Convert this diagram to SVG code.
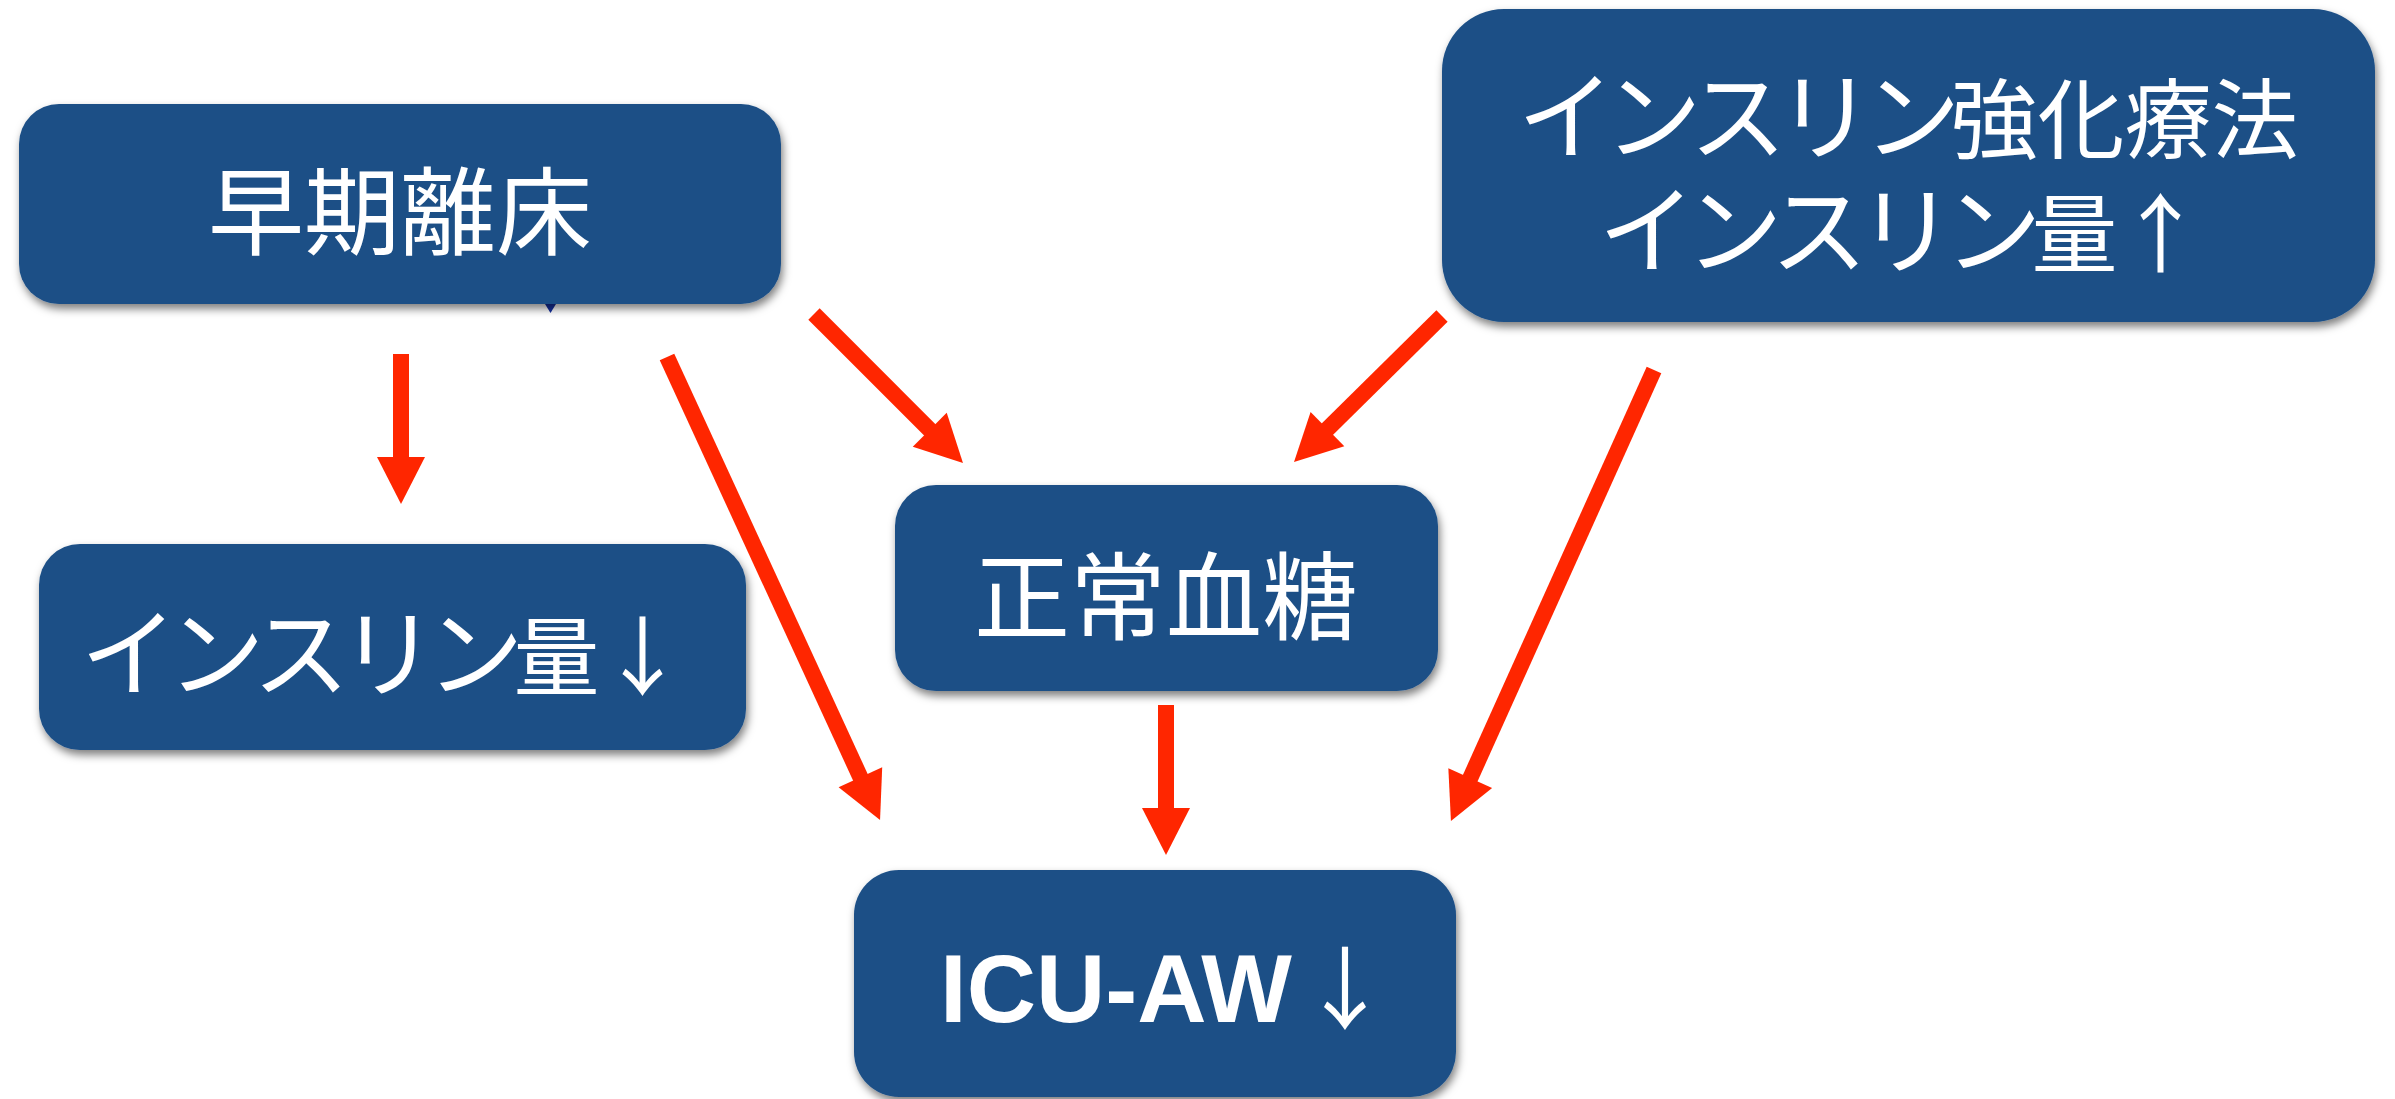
<svg xmlns="http://www.w3.org/2000/svg" width="2395" height="1099" viewBox="0 0 2395 1099">
  <defs>
    <filter id="shadow" x="-10%" y="-10%" width="125%" height="130%">
      <feDropShadow dx="2" dy="5" stdDeviation="4" flood-color="#000000" flood-opacity="0.5"/>
    </filter>
    <marker id="head" markerUnits="userSpaceOnUse" viewBox="0 -24 47 48" refX="22" refY="0" markerWidth="47" markerHeight="48" orient="auto" overflow="visible">
      <polygon points="0,-24 47,0 0,24" fill="#FF2600"/>
    </marker>
    <style>
      .box { fill: #1C4F86; filter: url(#shadow); }
      .jp { font-family: "Noto Sans CJK JP", "Noto Sans CJK SC", sans-serif; fill: #FFFFFF; }
      .kana { font-size: 97px; letter-spacing: -10px; }
      .en { font-family: "Liberation Sans", Arial, sans-serif; font-weight: bold; fill: #FFFFFF; }
      .edge { stroke: #FF2600; stroke-width: 16; fill: none; marker-end: url(#head); }
    </style>
  </defs>
  <rect width="2395" height="1099" fill="#FFFFFF"/>

  <g id="connectors">
    <line class="edge" x1="401" y1="354" x2="401" y2="479"/>
    <line class="edge" x1="667" y1="357" x2="869.6" y2="797.3"/>
    <line class="edge" x1="814" y1="314" x2="945.3" y2="445.3"/>
    <line class="edge" x1="1442" y1="316" x2="1311.8" y2="444.5"/>
    <line class="edge" x1="1654" y1="370" x2="1461.2" y2="798.2"/>
    <line class="edge" x1="1166" y1="705" x2="1166" y2="830"/>
  </g>

  <g id="node-early-mobilization">
    <polygon points="545,304 556,304 550.5,313" fill="#1530A0"/>
    <rect class="box" x="19" y="104" width="762" height="200" rx="40" ry="40"/>
    <text class="jp" x="400" y="247" font-size="96" text-anchor="middle">早期離床</text>
  </g>

  <g id="node-intensive-insulin">
    <rect class="box" x="1442" y="9" width="933" height="313" rx="62" ry="62"/>
    <text class="jp" font-size="86" text-anchor="middle"><tspan x="1908" y="152"><tspan class="kana">インスリン</tspan><tspan font-size="87">強化療法</tspan></tspan><tspan x="1901" y="266"><tspan class="kana">インスリン</tspan>量↑</tspan></text>
  </g>

  <g id="node-insulin-down">
    <rect class="box" x="39" y="544" width="707" height="206" rx="41" ry="41"/>
    <text class="jp" x="383" y="689" font-size="86" text-anchor="middle"><tspan class="kana">インスリン</tspan>量↓</text>
  </g>

  <g id="node-normoglycemia">
    <rect class="box" x="895" y="485" width="543" height="206" rx="41" ry="41"/>
    <text class="jp" x="1166" y="632" font-size="96" text-anchor="middle">正常血糖</text>
  </g>

  <g id="node-icu-aw">
    <rect class="box" x="854" y="870" width="602" height="227" rx="45" ry="45"/>
    <text x="940" y="1022"><tspan class="en" font-size="96">ICU-AW</tspan><tspan class="jp" font-size="90" dx="8">↓</tspan></text>
  </g>
</svg>
